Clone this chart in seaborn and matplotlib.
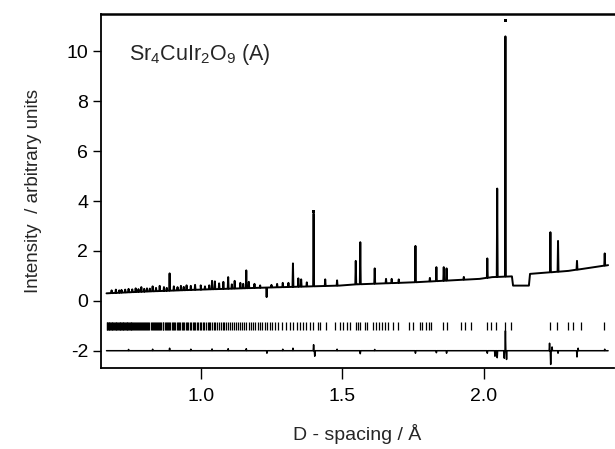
import numpy as np
import pandas as pd
import matplotlib
matplotlib.use("Agg")
import matplotlib.pyplot as plt
import seaborn as sns

# background anchor points (d-spacing / intensity)
bg_d = [0.667, 0.80, 1.00, 1.23, 1.49, 1.55, 1.75, 1.986, 2.03, 2.100, 2.104,
        2.160, 2.164, 2.30, 2.44]
bg_y = [0.30, 0.37, 0.45, 0.53, 0.61, 0.66, 0.74, 0.88, 0.95, 0.98, 0.61,
        0.61, 1.08, 1.20, 1.43]

# peak positions and peak tops
peak_d = [0.685, 0.700, 0.712, 0.720, 0.733, 0.745, 0.758, 0.770, 0.780, 0.790,
          0.800, 0.810, 0.820, 0.830, 0.842, 0.855, 0.870, 0.880, 0.890, 0.905,
          0.918, 0.930, 0.940, 0.950, 0.965, 0.980, 1.000, 1.015, 1.030, 1.040,
          1.050, 1.065, 1.080, 1.097, 1.110, 1.120, 1.140, 1.150, 1.161, 1.170,
          1.190, 1.210, 1.233, 1.250, 1.270, 1.290, 1.310, 1.326, 1.345, 1.355,
          1.375, 1.399, 1.440, 1.482, 1.548, 1.564, 1.615, 1.655, 1.675, 1.700,
          1.759, 1.810, 1.833, 1.859, 1.869, 1.930, 2.013, 2.048, 2.077, 2.236,
          2.263, 2.330, 2.428]
peak_top = [0.42, 0.45, 0.42, 0.44, 0.45, 0.48, 0.46, 0.50, 0.47, 0.55,
            0.48, 0.50, 0.49, 0.58, 0.52, 0.60, 0.55, 0.52, 1.10, 0.58,
            0.55, 0.60, 0.56, 0.62, 0.60, 0.64, 0.62, 0.58, 0.62, 0.80,
            0.78, 0.70, 0.76, 0.95, 0.66, 0.80, 0.72, 0.68, 1.22, 0.76,
            0.68, 0.62, 0.15, 0.64, 0.68, 0.72, 0.72, 1.50, 0.90, 0.86,
            0.74, 3.50, 0.86, 0.82, 1.60, 2.35, 1.30, 0.88, 0.88, 0.86,
            2.20, 0.92, 1.35, 1.35, 1.30, 0.96, 1.70, 4.50, 10.60, 2.75,
            2.40, 1.60, 1.90]

# isolated observed points above the fitted line
obs_d = [1.399, 2.077]
obs_y = [3.58, 11.25]

# reflection markers
tick_d = [0.667, 0.669, 0.672, 0.675, 0.677, 0.680, 0.683, 0.686, 0.688, 0.691,
          0.694, 0.697, 0.699, 0.702, 0.705, 0.708, 0.711, 0.713, 0.716, 0.719,
          0.722, 0.724, 0.727, 0.730, 0.733, 0.736, 0.738, 0.741, 0.744, 0.747,
          0.750, 0.752, 0.755, 0.758, 0.762, 0.765, 0.769, 0.771, 0.775, 0.779,
          0.782, 0.786, 0.789, 0.793, 0.797, 0.800, 0.804, 0.807, 0.811, 0.814,
          0.818, 0.823, 0.827, 0.830, 0.834, 0.838, 0.841, 0.845, 0.849, 0.853,
          0.856, 0.861, 0.865, 0.868, 0.872, 0.877, 0.881, 0.884, 0.889, 0.893,
          0.897, 0.902, 0.906, 0.910, 0.915, 0.919, 0.924, 0.928, 0.933, 0.937,
          0.942, 0.947, 0.951, 0.956, 0.961, 0.966, 0.971, 0.975, 0.980, 0.986,
          0.991, 0.996, 1.002, 1.007, 1.013, 1.018, 1.024, 1.030, 1.034, 1.041,
          1.047, 1.052, 1.059, 1.064, 1.071, 1.077, 1.084, 1.090, 1.097, 1.104,
          1.110, 1.117, 1.124, 1.131, 1.139, 1.146, 1.153, 1.161, 1.169, 1.176,
          1.184, 1.193, 1.201, 1.209, 1.218, 1.226, 1.235, 1.244, 1.252, 1.261,
          1.273, 1.288, 1.300, 1.314, 1.326, 1.340, 1.350, 1.362, 1.373, 1.385,
          1.397, 1.414, 1.420, 1.444, 1.476, 1.491, 1.503, 1.517, 1.529, 1.550,
          1.556, 1.564, 1.579, 1.588, 1.609, 1.621, 1.630, 1.641, 1.650, 1.662,
          1.679, 1.697, 1.735, 1.750, 1.774, 1.783, 1.795, 1.807, 1.815, 1.856,
          1.871, 1.921, 1.933, 1.956, 2.013, 2.027, 2.045, 2.076, 2.098, 2.235,
          2.259, 2.298, 2.315, 2.345, 2.425]
tick_lo, tick_hi = -1.16, -0.84

# difference curve: flat level plus spikes
diff_level = -2.0
diff_start, diff_end = 0.667, 2.44
diff_spike_d = [0.745, 0.830, 0.890, 0.965, 1.040, 1.097, 1.161, 1.234, 1.290,
                1.326, 1.399, 1.403, 1.482, 1.564, 1.615, 1.759, 1.833, 1.869,
                2.013, 2.040, 2.048, 2.073, 2.077, 2.081, 2.233, 2.237, 2.242,
                2.263, 2.330, 2.334, 2.428]
diff_spike_y = [-1.95, -1.94, -1.90, -1.94, -1.93, -1.92, -1.92, -2.10, -1.94,
                -1.90, -1.76, -2.22, -1.94, -2.12, -1.95, -2.10, -2.08, -2.10,
                -2.10, -2.22, -2.28, -2.30, -1.20, -2.35, -1.70, -2.55, -1.85,
                -2.10, -2.25, -1.90, -1.94]

PEAK_W = 0.0016
SPIKE_W = 0.0014


def spiky_line(base_x, base_y, spike_x, spike_top, width):
    """Lay narrow spikes on top of a polyline."""
    feet = np.interp(spike_x, base_x, base_y)
    xs = list(base_x)
    ys = list(base_y)
    for d, top, b in zip(spike_x, spike_top, feet):
        xs += [d - width, d, d + width]
        ys += [b, top, b]
    order = np.argsort(xs, kind="stable")
    return pd.DataFrame({"d": np.array(xs)[order], "y": np.array(ys)[order]})


profile = spiky_line(bg_d, bg_y, peak_d, peak_top, PEAK_W)
diff = spiky_line([diff_start, diff_end], [diff_level, diff_level],
                  diff_spike_d, diff_spike_y, SPIKE_W)

sns.set_style("ticks")
plt.rcParams["font.family"] = ["Liberation Sans", "DejaVu Sans"]
plt.rcParams["mathtext.default"] = "regular"
plt.rcParams["axes.unicode_minus"] = False

fig, ax = plt.subplots(figsize=(6.15, 4.49), dpi=100)
fig.subplots_adjust(left=0.164, right=0.998, bottom=0.180, top=0.969)

sns.lineplot(data=profile, x="d", y="y", estimator=None, sort=False,
             color="black", lw=1.4, ax=ax)
sns.lineplot(data=diff, x="d", y="y", estimator=None, sort=False,
             color="black", lw=1.1, ax=ax)
ax.vlines(tick_d, tick_lo, tick_hi, color="black", lw=0.9)
sns.scatterplot(x=obs_d, y=obs_y, color="black", s=5, marker="s",
                edgecolor="none", ax=ax)

ax.set_xlim(0.647, 2.46)
ax.set_ylim(-2.7, 11.5)
ax.set_xticks([1.0, 1.5, 2.0])
ax.set_xticklabels(["1.0", "1.5", "2.0"])
ax.set_yticks([-2, 0, 2, 4, 6, 8, 10])

ax.text(0.055, 0.885, "Sr$_4$CuIr$_2$O$_9$ (A)", transform=ax.transAxes,
        fontsize=15.5, va="center", ha="left")

ax.set_xlabel("D - spacing / Å", fontsize=14, labelpad=14)
ax.set_ylabel("Intensity  / arbitrary units", fontsize=13.5, labelpad=18)
ax.tick_params(axis="both", labelsize=14, width=1.0, colors="black")
ax.tick_params(axis="x", length=8, pad=6)
ax.tick_params(axis="y", length=6, pad=3)

sns.despine(ax=ax, top=False, right=True)
ax.spines["top"].set_linewidth(1.8)
ax.spines["left"].set_linewidth(1.3)
ax.spines["bottom"].set_linewidth(1.3)
for s in ax.spines.values():
    s.set_color("black")

fig.savefig("out.png", dpi=100)
